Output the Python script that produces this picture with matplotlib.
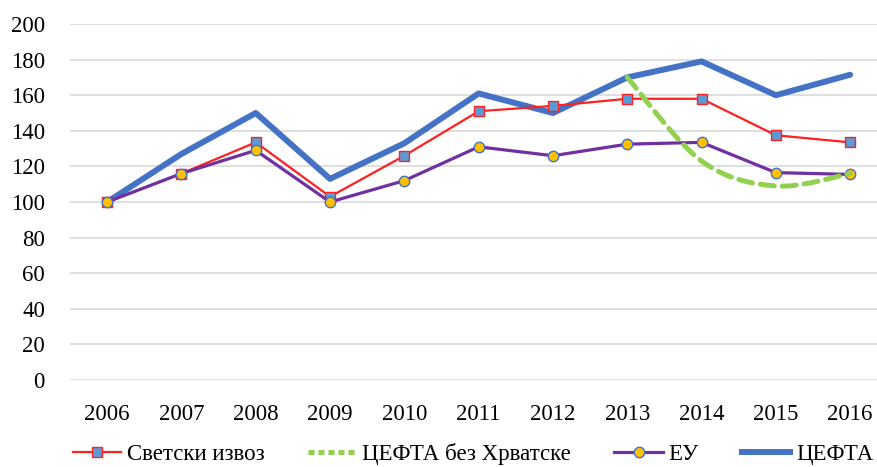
import numpy as np
import matplotlib.pyplot as plt
from matplotlib.path import Path
from matplotlib.patches import PathPatch
from matplotlib.lines import Line2D

# Podaci (indeksi, 2006 = 100)
godine = [2006, 2007, 2008, 2009, 2010, 2011, 2012, 2013, 2014, 2015, 2016]
svetski_izvoz = [100, 116, 133.5, 103, 126, 151, 154, 158, 158, 137.5, 133.5]
eu = [100, 116, 129, 100, 112, 131, 126, 132.5, 133.5, 116.5, 115.5]
cefta = [100, 127, 150, 113, 133, 161, 150, 170, 179, 160, 171.5]
cefta_godine = [2013, 2014, 2015, 2016]
cefta_bez_hr = [170, 123, 109, 116]

oznake = ['Светски извоз', 'ЦЕФТА без Хрватске', 'ЕУ', 'ЦЕФТА']

plt.rcParams['font.family'] = ['Liberation Serif', 'DejaVu Serif']

fig = plt.figure(figsize=(8.78, 4.67), dpi=100)
ax = fig.add_axes([70 / 878, 87 / 467, 808 / 878, 356 / 467])


# Glatka linija (kao u Excelu) preko Catmull-Rom krivih
def glatka_putanja(xs, ys):
    pts = np.column_stack([xs, ys]).astype(float)
    verts = [pts[0]]
    codes = [Path.MOVETO]
    n = len(pts)
    for i in range(n - 1):
        p0 = pts[i - 1] if i > 0 else pts[i]
        p1 = pts[i]
        p2 = pts[i + 1]
        p3 = pts[i + 2] if i + 2 < n else pts[i + 1]
        c1 = p1 + (p2 - p0) / 6
        c2 = p2 - (p3 - p1) / 6
        verts += [c1, c2, p2]
        codes += [Path.CURVE4] * 3
    return Path(verts, codes)


ax.plot(godine, svetski_izvoz, color='#FF2020', lw=1.6, marker='s', ms=7.5,
        mfc='#5B9BD5', mec='#FF2020', mew=1.0, zorder=3)
ax.plot(godine, eu, color='#7030A0', lw=2.3, marker='o', ms=7.5,
        mfc='#FFC000', mec='#4472C4', mew=1.0, zorder=4)
ax.plot(godine, cefta, color='#4472C4', lw=4.3, solid_capstyle='round',
        solid_joinstyle='round', zorder=2)

ax.set_xlim(2005.5, 2016.375)
ax.set_ylim(0, 200)

patch = PathPatch(glatka_putanja(cefta_godine, cefta_bez_hr), fill=False,
                  edgecolor='#92D050', lw=3.6, linestyle=(0, (2.8, 1.6)),
                  capstyle='round', zorder=5)
ax.add_patch(patch)

ax.set_yticks(range(0, 201, 20))
ax.set_xticks(godine)
ax.grid(axis='y', color='#D9D9D9', lw=1.2)
ax.set_axisbelow(True)
for s in ax.spines.values():
    s.set_visible(False)
ax.tick_params(length=0, labelsize=16.5)
ax.tick_params(axis='y', pad=18)
ax.tick_params(axis='x', pad=17)

rucke = [
    Line2D([], [], color='#FF2020', lw=1.6, marker='s', ms=7.5,
           mfc='#5B9BD5', mec='#FF2020'),
    Line2D([], [], color='#92D050', lw=3.6, linestyle=(0, (1.2, 0.8))),
    Line2D([], [], color='#7030A0', lw=2.3, marker='o', ms=7.5,
           mfc='#FFC000', mec='#4472C4'),
    Line2D([], [], color='#4472C4', lw=4.3),
]
fig.legend(rucke, oznake, loc='center', bbox_to_anchor=(0.539, 0.027),
           ncol=4, frameon=False, fontsize=16.5, handlelength=2.1,
           handletextpad=0.25, columnspacing=1.9, borderpad=0)

plt.savefig('out.png', dpi=100)
